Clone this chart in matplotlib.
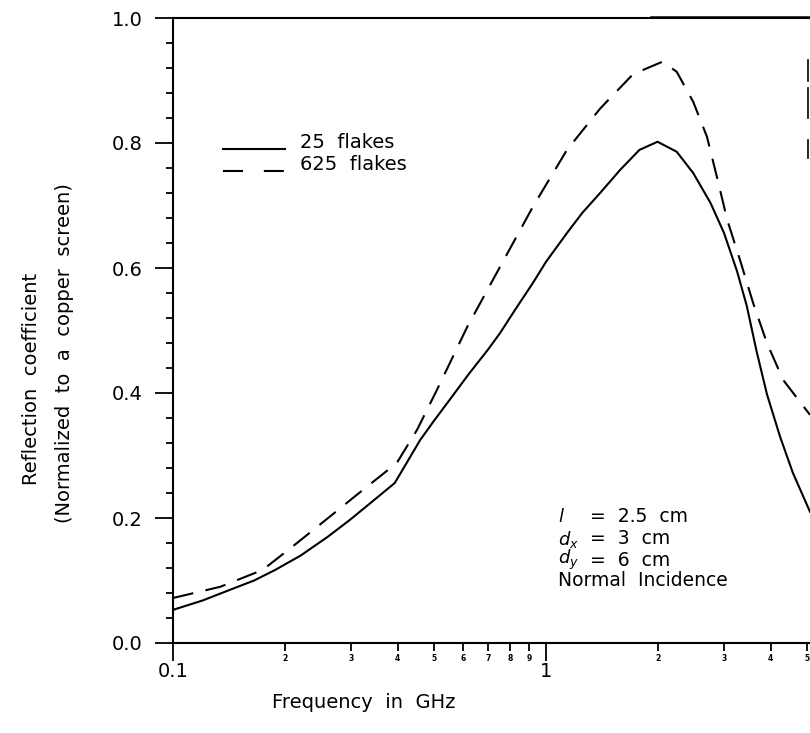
import matplotlib
matplotlib.use('Agg')
import matplotlib.pyplot as plt
from matplotlib.lines import Line2D

# Data (frequency in GHz, reflection coefficient)
freq_25 = [0.1, 0.12, 0.142, 0.165, 0.188, 0.22, 0.26, 0.298, 0.34, 0.393,
           0.42, 0.46, 0.5, 0.553, 0.62, 0.70, 0.753, 0.83, 0.922, 1.0,
           1.138, 1.25, 1.396, 1.58, 1.78, 1.99, 2.24, 2.48, 2.76, 3.0,
           3.25, 3.45, 3.67, 3.91, 4.24, 4.59, 5.1]
refl_25 = [0.053, 0.068, 0.085, 0.10, 0.117, 0.14, 0.17, 0.197, 0.225, 0.256,
           0.285, 0.325, 0.355, 0.39, 0.43, 0.47, 0.496, 0.535, 0.576, 0.61,
           0.656, 0.688, 0.72, 0.757, 0.789, 0.802, 0.786, 0.752, 0.704, 0.656,
           0.595, 0.54, 0.466, 0.398, 0.33, 0.272, 0.21]

freq_625 = [0.1, 0.134, 0.174, 0.215, 0.263, 0.323, 0.398, 0.451, 0.51, 0.615,
            0.753, 0.922, 1.138, 1.396, 1.71, 2.05, 2.24, 2.48, 2.7, 2.87,
            3.06, 3.33, 3.59, 3.91, 4.32, 5.1]
refl_625 = [0.072, 0.09, 0.117, 0.16, 0.202, 0.245, 0.288, 0.341, 0.405, 0.506,
            0.602, 0.698, 0.789, 0.855, 0.91, 0.93, 0.914, 0.866, 0.81, 0.746,
            0.677, 0.608, 0.544, 0.48, 0.421, 0.365]

major_x = [0.1, 1]
major_x_labels = ['0.1', '1']
minor_x = [0.2, 0.3, 0.4, 0.5, 0.6, 0.7, 0.8, 0.9, 2, 3, 4, 5]
minor_x_labels = ['2', '3', '4', '5', '6', '7', '8', '9', '2', '3', '4', '5']
major_y = [0.0, 0.2, 0.4, 0.6, 0.8, 1.0]
minor_y = [i * 0.04 for i in range(26)]

plt.rcParams['mathtext.fontset'] = 'dejavusans'

W, H = 810, 733
fig = plt.figure(figsize=(W / 100, H / 100), dpi=100)
ax = fig.add_axes([173 / W, 1 - 643 / H, 637 / W, 625 / H])

ax.plot(freq_25, refl_25, color='black', lw=1.5)
ax.plot(freq_625, refl_625, color='black', lw=1.5, dashes=(10, 6))

ax.set_xscale('log')
ax.set_xlim(0.1, 5.1)
ax.set_ylim(0, 1.0)
ax.spines['right'].set_visible(False)
for s in ['left', 'top', 'bottom']:
    ax.spines[s].set_linewidth(1.5)

ax.set_xticks(major_x)
ax.set_xticklabels(major_x_labels)
ax.set_xticks(minor_x, minor=True)
ax.set_xticklabels(minor_x_labels, minor=True, fontsize=5.5, fontweight='bold')
ax.tick_params(axis='x', which='major', direction='out', length=13, width=1.3,
               pad=1, labelsize=14)
ax.tick_params(axis='x', which='minor', direction='out', length=6, width=1.3, pad=2)

ax.set_yticks(major_y)
ax.set_yticklabels([f'{v:.1f}' for v in major_y])
ax.set_yticks(minor_y, minor=True)
ax.tick_params(axis='y', which='major', direction='out', length=13, width=1.3,
               pad=9, labelsize=14)
ax.tick_params(axis='y', which='minor', direction='out', length=5, width=1.3)

ax.set_xlabel('Frequency  in  GHz', fontsize=14)
ax.xaxis.set_label_coords((364 - 173) / 637, -(693 - 643) / 625)

fig.text(32 / W, 1 - 379 / H, 'Reflection  coefficient', rotation=90,
         ha='center', va='center', fontsize=14)
fig.text(65 / W, 1 - 353 / H, '(Normalized  to  a  copper  screen)', rotation=90,
         ha='center', va='center', fontsize=14)

# legend drawn by hand to keep the short dash sample of the original
ax.plot([0.0785, 0.176], [0.790, 0.790], transform=ax.transAxes, color='black', lw=1.5)
ax.plot([0.0785, 0.176], [0.755, 0.755], transform=ax.transAxes, color='black', lw=1.5,
        dashes=(9.6, 10))
ax.text(0.199, 0.800, '25  flakes', transform=ax.transAxes, fontsize=14, va='center')
ax.text(0.199, 0.765, '625  flakes', transform=ax.transAxes, fontsize=14, va='center')

# parameter block
params = [r'$l$', r'$d_x$', r'$d_y$']
values = ['=  2.5  cm', '=  3  cm', '=  6  cm']
rows_y = [0.2016, 0.1664, 0.1328]
for name, val, yy in zip(params, values, rows_y):
    ax.text(0.6044, yy, name, transform=ax.transAxes, fontsize=13, va='center')
    ax.text(0.6546, yy, val, transform=ax.transAxes, fontsize=13.5, va='center')
ax.text(0.6044, 0.0992, 'Normal  Incidence', transform=ax.transAxes, fontsize=13.5,
        va='center')

# cropped remnants at the right edge of the scan
def px(x, y):
    return x / W, 1 - y / H

for y0, y1 in [(60, 81), (88, 118), (140, 158)]:
    (xa, ya), (xb, yb) = px(808, y0), px(808, y1)
    fig.add_artist(Line2D([xa, xb], [ya, yb], color='black', lw=1.2))
(xa, ya), (xb, yb) = px(651, 17), px(810, 17)
fig.add_artist(Line2D([xa, xb], [ya, yb], color='black', lw=1.8))

fig.savefig('out.png', dpi=100)
